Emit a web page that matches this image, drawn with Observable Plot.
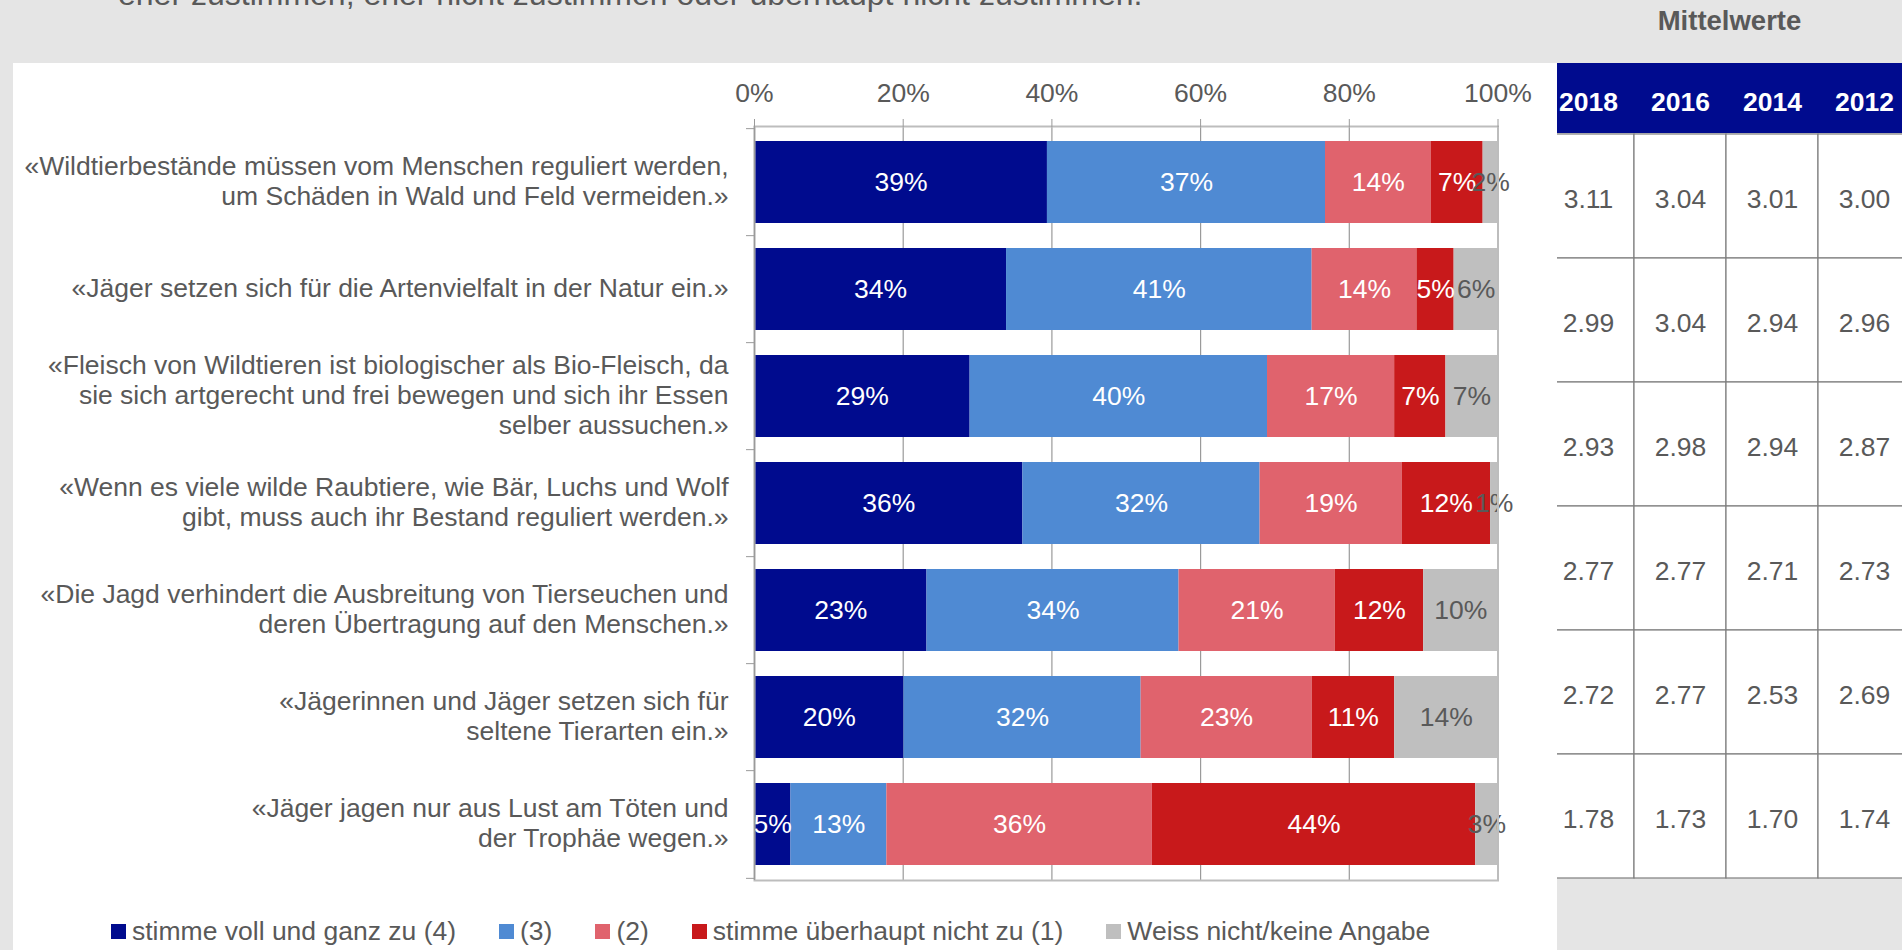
<!DOCTYPE html>
<html>
<head>
<meta charset="utf-8">
<script src="https://cdn.jsdelivr.net/npm/d3@7"></script>
<script src="https://cdn.jsdelivr.net/npm/@observablehq/plot@0.6"></script>
<style>
  html, body { margin:0; padding:0; width:1902px; height:950px; overflow:hidden; background:#e5e5e5;
    font-family:"Liberation Sans", Arial, sans-serif; color:#595959; }
  #title { position:absolute; left:118px; top:-22px; font-size:32px; line-height:32px; white-space:nowrap; }
  #mw { position:absolute; left:1557px; width:345px; top:6px; text-align:center; font-weight:bold; font-size:27.5px; line-height:30px; }
  #panel { position:absolute; left:13px; top:63px; width:1544px; height:887px; background:#fff; }
  #chart { position:absolute; left:13px; top:63px; }
  #table { position:absolute; left:1557px; top:63px; }
  #legend { position:absolute; left:111px; top:915px; display:flex; align-items:center; gap:43px; font-size:26.5px; line-height:32px; white-space:nowrap; }
  #legend .it { display:flex; align-items:center; gap:6px; }
  #legend .sw { width:15px; height:15px; display:inline-block; }
</style>
</head>
<body>
<div id="title">eher zustimmen, eher nicht zustimmen oder überhaupt nicht zustimmen.</div>
<div id="mw">Mittelwerte</div>
<div id="panel"></div>
<div id="chart"></div>
<div id="table"></div>
<div id="legend"></div>
<script>
// ---- data ----
const statements = [
  "«Wildtierbestände müssen vom Menschen reguliert werden,\num Schäden in Wald und Feld vermeiden.»",
  "«Jäger setzen sich für die Artenvielfalt in der Natur ein.»",
  "«Fleisch von Wildtieren ist biologischer als Bio-Fleisch, da\nsie sich artgerecht und frei bewegen und sich ihr Essen\nselber aussuchen.»",
  "«Wenn es viele wilde Raubtiere, wie Bär, Luchs und Wolf\ngibt, muss auch ihr Bestand reguliert werden.»",
  "«Die Jagd verhindert die Ausbreitung von Tierseuchen und\nderen Übertragung auf den Menschen.»",
  "«Jägerinnen und Jäger setzen sich für\nseltene Tierarten ein.»",
  "«Jäger jagen nur aus Lust am Töten und\nder Trophäe wegen.»"
];
const categories = ["stimme voll und ganz zu (4)", "(3)", "(2)", "stimme überhaupt nicht zu (1)", "Weiss nicht/keine Angabe"];
const colors = ["#000b8e", "#4f8ad3", "#e0636d", "#c8191b", "#bfbfbf"];
const v4  = [39.4, 33.9, 29.0, 36.1, 23.2, 20.1,  4.9];
const v3  = [37.4, 41.1, 40.0, 31.9, 33.9, 31.9, 12.9];
const v2  = [14.2, 14.1, 17.1, 19.1, 21.0, 23.0, 35.7];
const v1  = [ 7.0,  5.0,  6.9, 11.9, 11.9, 11.1, 43.5];
const vWN = [ 2.0,  5.9,  7.0,  1.0, 10.0, 13.9,  3.0];
const xTicks = [0, 20, 40, 60, 80, 100];

const years = ["2018", "2016", "2014", "2012"];
const tableRows = ["Wildtierbestände", "Fleisch", "Raubtiere", "Tierseuchen", "Seltene Tierarten", "Trophäe"];
const m2018 = [3.11, 2.99, 2.93, 2.77, 2.72, 1.78];
const m2016 = [3.04, 3.04, 2.98, 2.77, 2.77, 1.73];
const m2014 = [3.01, 2.94, 2.94, 2.71, 2.53, 1.70];
const m2012 = [3.00, 2.96, 2.87, 2.73, 2.69, 1.74];

// ---- build tables ----
const series = [v4, v3, v2, v1, vWN];
const data = statements.flatMap((s, i) => categories.map((c, j) => ({statement: s, category: c, value: series[j][i]})));
const lastCat = categories[categories.length - 1];
const means = [m2018, m2016, m2014, m2012];
const cells = tableRows.flatMap((r, i) => years.map((y, j) => ({row: r, year: y, mean: means[j][i]})));

const FONT = '"Liberation Sans", Arial, sans-serif';
const GREY = "#595959";
const FS = 26.5;

// ---- main chart ----
const W = 1544, mL = 741, mR = 59.5, mT = 63, plotH = 754, mB = 10;
const step = plotH / statements.length;
const label = d => Math.round(d.value) + "%";

const chart = Plot.plot({
  width: W, height: mT + plotH + mB,
  marginLeft: mL, marginRight: mR, marginTop: mT, marginBottom: mB,
  style: {fontFamily: FONT, fontSize: FS + "px", color: GREY, background: "transparent"},
  x: {domain: [0, 100], label: null},
  y: {domain: statements, paddingInner: 0.234, paddingOuter: 0.117, label: null, axis: null},
  color: {domain: categories, range: colors},
  marks: [
    Plot.gridX(xTicks, {stroke: "#9a9a9a", strokeOpacity: 1, strokeWidth: 1.2}),
    Plot.barX(data, Plot.stackX({x: "value", y: "statement", fill: "category"})),
    Plot.text(data, Plot.stackX({x: "value", y: "statement", z: "category",
      text: d => d.category !== lastCat ? label(d) : "", fill: "white", fontSize: FS})),
    Plot.text(data, Plot.stackX({x: "value", y: "statement", z: "category",
      text: d => d.category === lastCat ? label(d) : "", fill: GREY, fontSize: FS})),
    Plot.frame({stroke: "#bdbdbd", strokeWidth: 2}),
    Plot.ruleX([0], {stroke: "#9a9a9a", strokeWidth: 1.2}),
    Plot.axisX({anchor: "top", ticks: xTicks, tickFormat: d => d + "%", tickSize: 8, tickPadding: 17,
      stroke: "#9a9a9a", fill: GREY, fontSize: FS, label: null}),
    Plot.text(statements, {y: d => d, text: d => d, frameAnchor: "left", textAnchor: "end",
      dx: -26, dy: -2, lineHeight: 1.14, fill: GREY, fontSize: FS}),
    Plot.axisY({anchor: "left", tickSize: 8, tickFormat: () => "", dy: -step / 2, stroke: "#9a9a9a", label: null}),
    Plot.axisY({anchor: "left", ticks: [statements[statements.length - 1]], tickSize: 8, tickFormat: () => "",
      dy: step / 2, stroke: "#9a9a9a", label: null})
  ]
});
document.getElementById("chart").appendChild(chart);

// ---- means table ----
const tW = 345, headH = 69.7, rowH = 124.6;
const colW = 92, colOffset = 15.3;
const tbl = Plot.plot({
  width: tW, height: headH + rowH * tableRows.length + 1,
  marginLeft: 0, marginRight: 0, marginTop: headH, marginBottom: 1,
  style: {fontFamily: FONT, fontSize: FS + "px", color: GREY,
    background: `linear-gradient(#000b8e 0 ${headH}px, transparent ${headH}px)`},
  x: {type: "band", domain: years, range: [-colOffset, -colOffset + colW * years.length], padding: 0, label: null, axis: null},
  y: {type: "band", domain: tableRows, padding: 0, label: null, axis: null},
  marks: [
    Plot.cell(cells, {x: "year", y: "row", fill: "white", stroke: "#7f7f7f", strokeWidth: 1.2}),
    Plot.text(cells, {x: "year", y: "row", text: d => d.mean.toFixed(2), fill: GREY, fontSize: FS, dy: 3}),
    Plot.axisX({anchor: "top", tickSize: 0, tickPadding: 22, fill: "white", fontWeight: "bold", fontSize: FS, label: null})
  ]
});
document.getElementById("table").appendChild(tbl);

// ---- legend ----
const leg = document.getElementById("legend");
categories.forEach((c, i) => {
  const it = document.createElement("div");
  it.className = "it";
  it.innerHTML = `<span class="sw" style="background:${colors[i]}"></span><span>${c}</span>`;
  leg.appendChild(it);
});
</script>
</body>
</html>
